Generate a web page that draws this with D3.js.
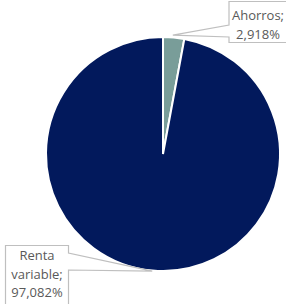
<!DOCTYPE html>
<html>
<head>
<meta charset="utf-8">
<script src="https://cdn.jsdelivr.net/npm/d3@7"></script>
<style>
  body { margin: 0; background: #fff; }
  svg { display: block; }
</style>
</head>
<body>
<script>
const categories = ["Ahorros", "Renta variable"];
const values = [2.918, 97.082];
const labels = [["Ahorros;", "2,918%"], ["Renta", "variable;", "97,082%"]];
const colors = ["#799d99", "#02195c"];

const width = 286, height = 304;
const cx = 163, cy = 154, radius = 117;

const svg = d3.select("body").append("svg")
  .attr("width", width)
  .attr("height", height);

const pie = d3.pie().sort(null).value(d => d.value);
const arc = d3.arc().innerRadius(0).outerRadius(radius);

const data = categories.map((c, i) => ({ name: c, value: values[i], label: labels[i], color: colors[i] }));
const arcs = pie(data);

svg.append("g")
  .attr("transform", `translate(${cx},${cy})`)
  .selectAll("path")
  .data(arcs)
  .join("path")
  .attr("d", arc)
  .attr("fill", d => d.data.color)
  .attr("stroke", "#fff")
  .attr("stroke-width", 2);

// callout boxes: box + wedge pointing at slice
const callouts = [
  { box: [229, 1.5, 62, 41], side: "left", wedge: [25, 37], tipAngle: 0.45, tipR: 1.02, lines: labels[0], textX: 258, textY: 20 },
  { box: [5.5, 245.5, 63, 62], side: "right", wedge: [253, 270], tipAngle: 0.5, tipR: 1.005, lines: labels[1], textX: 37, textY: 260 }
];

callouts.forEach((c, i) => {
  const a = arcs[i];
  const ang = a.startAngle + (a.endAngle - a.startAngle) * c.tipAngle;
  const tx = cx + Math.sin(ang) * radius * c.tipR;
  const ty = cy - Math.cos(ang) * radius * c.tipR;
  const [x, y, w, h] = c.box;
  let pts;
  if (c.side === "left") {
    pts = [[x, y], [x + w, y], [x + w, y + h], [x, y + h], [x, c.wedge[1]], [tx, ty], [x, c.wedge[0]]];
  } else {
    pts = [[x, y], [x + w, y], [x + w, c.wedge[0]], [tx, ty], [x + w, c.wedge[1]], [x + w, y + h], [x, y + h]];
  }
  svg.append("path")
    .attr("d", d3.line()(pts) + "Z")
    .attr("fill", "#fff")
    .attr("stroke", "#bfbfbf")
    .attr("stroke-width", 1.2);

  const t = svg.append("text")
    .attr("text-anchor", "middle")
    .attr("font-family", "'Open Sans', 'Noto Sans', sans-serif")
    .attr("font-size", 13)
    .attr("fill", "#595959");
  c.lines.forEach((l, j) => {
    t.append("tspan").attr("x", c.textX).attr("y", c.textY + j * 18.5).text(l);
  });
});
</script>
</body>
</html>
